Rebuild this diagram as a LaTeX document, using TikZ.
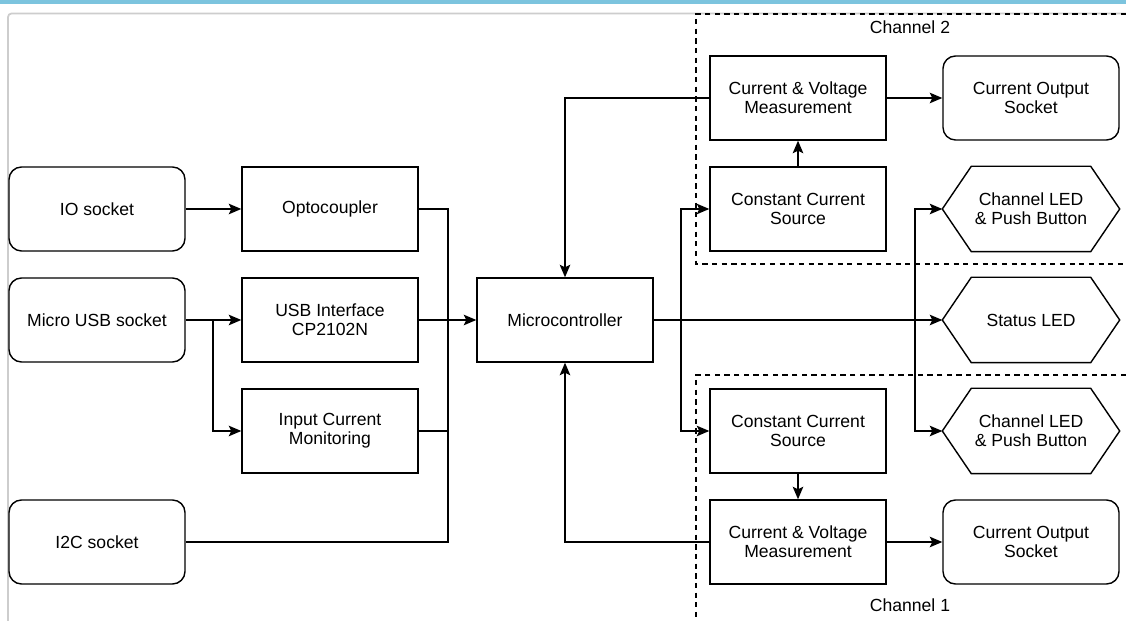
\documentclass[tikz,border=0pt]{standalone}
\usepackage{fontspec}
\setmainfont{Liberation Sans}
\usepackage{xcolor}
\usepackage{tikz}
\usetikzlibrary{arrows.meta, positioning}
\definecolor{banner}{RGB}{124,196,222}
\definecolor{framegray}{RGB}{205,205,205}

\begin{document}
\begin{tikzpicture}[
        font=\fontsize{10}{11}\selectfont,
        block/.style={rectangle, draw=black, thick, minimum width=3.52cm, minimum height=1.68cm, align=center, inner sep=1pt},
        sock/.style={block, rounded corners=0.25cm},
        hexa/.style={block, draw=none},
        arr/.style={-{Stealth[length=0.25cm, width=0.21cm, inset=0.05cm]}, thick},
        wire/.style={thick},
        chan/.style={dashed, semithick, dash pattern=on 3pt off 2.5pt}
    ]
        \useasboundingbox (0,0) rectangle (22.52,12.42);

        % Page frame
        \fill[banner] (0,12.34) rectangle (22.52,12.42);
        \draw[framegray, line width=1pt, rounded corners=2pt] (0.16,0) -- (0.16,12.15) -- (22.52,12.15);

        % Channel groups
        \draw[chan] (22.52,12.14) -- (13.92,12.14) -- (13.92,7.14) -- (22.52,7.14);
        \draw[chan] (22.52,4.92) -- (13.92,4.92) -- (13.92,0);
        \node (ch2) at (18.2,11.88) {Channel 2};
        \node (ch1) at (18.2,0.32) {Channel 1};

        % Input side
        \node[sock] (io) at (1.94,8.24) {IO socket};
        \node[sock] (usbsock) at (1.94,6.02) {Micro USB socket};
        \node[sock] (i2c) at (1.94,1.58) {I2C socket};
        \node[block] (opto) at (6.60,8.24) {Optocoupler};
        \node[block] (usbif) at (6.60,6.02) {USB Interface\\CP2102N};
        \node[block] (icm) at (6.60,3.80) {Input Current\\Monitoring};
        \node[block] (mcu) at (11.30,6.02) {Microcontroller};

        % Channel 2
        \node[block] (cv2) at (15.96,10.46) {Current \& Voltage\\Measurement};
        \node[block] (ccs2) at (15.96,8.24) {Constant Current\\Source};
        \node[sock] (out2) at (20.62,10.46) {Current Output\\Socket};
        \node[hexa] (led2) at (20.62,8.24) {Channel LED\\\& Push Button};

        % Status
        \node[hexa] (status) at (20.62,6.02) {Status LED};

        % Channel 1
        \node[block] (ccs1) at (15.96,3.80) {Constant Current\\Source};
        \node[block] (cv1) at (15.96,1.58) {Current \& Voltage\\Measurement};
        \node[hexa] (led1) at (20.62,3.80) {Channel LED\\\& Push Button};
        \node[sock] (out1) at (20.62,1.58) {Current Output\\Socket};

        % Hexagon outlines
        \foreach \h in {led2, status, led1}
            \draw[thick] (\h.west) -- ([xshift=0.58cm]\h.north west) -- ([xshift=-0.58cm]\h.north east)
                -- (\h.east) -- ([xshift=-0.58cm]\h.south east) -- ([xshift=0.58cm]\h.south west) -- cycle;

        % Junctions
        \coordinate (usbsplit) at (4.26,6.02);
        \coordinate (bustop) at (8.96,8.24);
        \coordinate (busbot) at (8.96,1.58);
        \coordinate (ccssplit) at (13.62,6.02);
        \coordinate (ledsplit) at (18.30,6.02);

        % Input connections
        \draw[arr] (io) -- (opto);
        \draw[arr] (usbsock) -- (usbif);
        \draw[arr] (usbsplit) |- (icm);
        \draw[wire] (opto.east) -- (bustop) -- (busbot) -- (i2c.east);
        \draw[wire] (icm.east) -- (icm.east -| bustop);
        \draw[arr] (usbif) -- (mcu);

        % Output connections
        \draw[arr] (mcu) -- (status);
        \draw[arr] (ccssplit) |- (ccs2);
        \draw[arr] (ccssplit) |- (ccs1);
        \draw[arr] (ledsplit) |- (led2);
        \draw[arr] (ledsplit) |- (led1);
        \draw[arr] (cv2.west) -| (mcu.north);
        \draw[arr] (cv1.west) -| (mcu.south);
        \draw[arr] (ccs2) -- (cv2);
        \draw[arr] (ccs1) -- (cv1);
        \draw[arr] (cv2) -- (out2);
        \draw[arr] (cv1) -- (out1);
    \end{tikzpicture}
\end{document}
